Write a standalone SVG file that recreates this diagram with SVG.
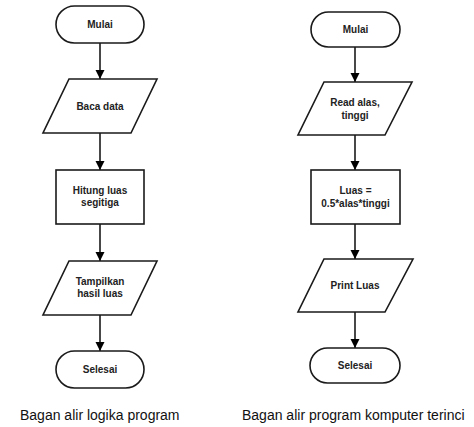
<svg xmlns="http://www.w3.org/2000/svg" width="474" height="427" viewBox="0 0 474 427">
<defs>
<marker id="ah" markerUnits="userSpaceOnUse" markerWidth="10" markerHeight="11" refX="9" refY="5" orient="auto">
<path d="M0,0.5 L9,5 L0,9.5 Z" fill="#000"/>
</marker>
<style>
.s{fill:#fff;stroke:#1a1a1a;stroke-width:1.6}
.t{font-family:"Liberation Sans",Arial,sans-serif;font-weight:bold;font-size:10px;fill:#222;text-anchor:middle}
.c{stroke:#1a1a1a;stroke-width:1.6;fill:none;marker-end:url(#ah)}
.cap{font-family:"Liberation Sans",Arial,sans-serif;font-size:14px;fill:#111}
</style>
</defs>
<rect width="474" height="427" fill="#fff"/>
<g id="connectors">
<line class="c" x1="100" y1="43" x2="100" y2="79"/>
<line class="c" x1="100" y1="133" x2="100" y2="170"/>
<line class="c" x1="100" y1="224" x2="100" y2="261"/>
<line class="c" x1="100" y1="315" x2="100" y2="351"/>
<line class="c" x1="355" y1="47" x2="355" y2="82"/>
<line class="c" x1="355" y1="135" x2="355" y2="170"/>
<line class="c" x1="355" y1="224" x2="355" y2="259"/>
<line class="c" x1="355" y1="312" x2="355" y2="348"/>
</g>
<g id="mulai1"><rect class="s" x="56" y="6" width="88" height="37" rx="18.5"/><text class="t" x="100" y="28">Mulai</text></g>
<g id="baca"><polygon class="s" points="69,79 157,79 131,133 43,133"/><text class="t" x="100" y="110">Baca data</text></g>
<g id="hitung"><rect class="s" x="56" y="170" width="88" height="54"/><text class="t" x="100" y="194">Hitung luas</text><text class="t" x="100" y="206">segitiga</text></g>
<g id="tampilkan"><polygon class="s" points="69,261 157,261 131,315 43,315"/><text class="t" x="100" y="285">Tampilkan</text><text class="t" x="100" y="297">hasil luas</text></g>
<g id="selesai1"><rect class="s" x="56" y="351" width="88" height="37" rx="18.5"/><text class="t" x="100" y="373">Selesai</text></g>
<g id="mulai2"><rect class="s" x="311" y="12" width="89" height="35" rx="17.5"/><text class="t" x="355.5" y="33">Mulai</text></g>
<g id="read"><polygon class="s" points="324,82 412,82 385,135 298,135"/><text class="t" x="355" y="106">Read alas,</text><text class="t" x="355" y="119">tinggi</text></g>
<g id="luas"><rect class="s" x="311" y="170" width="89" height="54"/><text class="t" x="355.5" y="194">Luas =</text><text class="t" x="355.5" y="207">0.5*alas*tinggi</text></g>
<g id="print"><polygon class="s" points="324,259 413,259 385,312 298,312"/><text class="t" x="355" y="289">Print Luas</text></g>
<g id="selesai2"><rect class="s" x="310" y="348" width="90" height="35" rx="17.5"/><text class="t" x="355" y="369">Selesai</text></g>
<text class="cap" x="20" y="420">Bagan alir logika program</text>
<text class="cap" x="242" y="420">Bagan alir program komputer terinci</text>
</svg>
